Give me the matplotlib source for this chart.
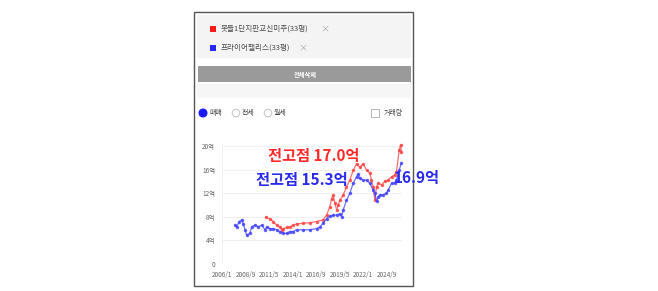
import numpy as np
import matplotlib
matplotlib.use('Agg')
import matplotlib.pyplot as plt
from matplotlib.patches import Rectangle, Ellipse

plt.rcParams['font.family'] = ['Noto Sans CJK KR', 'DejaVu Sans']

W, H = 658, 291

''' data read off the picture (decimal years, 억) '''
blue_years = [2007.47, 2007.66, 2007.96, 2008.23, 2008.42, 2008.6, 2008.79, 2009.17, 2009.36,
              2009.74, 2010.11, 2010.49, 2010.87, 2011.06, 2011.43, 2011.81, 2012.19, 2012.57,
              2012.94, 2013.32, 2013.7, 2014.08, 2014.45, 2015.21, 2015.96, 2016.72, 2017.09,
              2017.47, 2017.85, 2018.23, 2018.6, 2018.98, 2019.36, 2019.55, 2019.74, 2020.11,
              2020.49, 2020.87, 2021.25, 2021.43, 2021.62, 2022.0, 2022.38, 2022.75, 2023.13,
              2023.32, 2023.51, 2023.7, 2023.89, 2024.26, 2024.64, 2024.83, 2025.21, 2025.58,
              2025.77, 2026.08, 2026.34]
blue_vals = [6.6, 6.3, 7.2, 7.5, 6.8, 5.8, 4.9, 5.2, 6.3,
             6.6, 6.3, 6.6, 5.8, 6.3, 6.0, 6.0, 5.8, 5.5,
             5.2, 5.2, 5.5, 5.5, 5.8, 5.8, 5.8, 6.0, 6.3,
             6.9, 7.7, 8.1, 8.3, 8.3, 8.5, 8.0, 9.2, 10.8,
             12.0, 13.7, 14.8, 15.3, 14.5, 14.2, 14.2, 13.7, 12.5,
             12.0, 10.6, 11.4, 11.7, 11.7, 12.0, 12.5, 13.7, 13.7,
             14.2, 15.9, 17.2]

red_years = [2010.98, 2011.43, 2011.81, 2012.19, 2012.57, 2012.75, 2012.94, 2013.32, 2013.7,
             2014.08, 2014.45, 2015.21, 2015.96, 2016.72, 2017.47, 2017.85, 2018.23, 2018.42,
             2018.6, 2018.79, 2018.98, 2019.17, 2019.36, 2019.74, 2020.11, 2020.49, 2020.87,
             2021.25, 2021.62, 2022.0, 2022.38, 2022.75, 2022.94, 2023.13, 2023.32, 2023.51,
             2023.7, 2024.08, 2024.45, 2024.83, 2025.21, 2025.58, 2025.77, 2026.08, 2026.23,
             2026.34]
red_vals = [7.9, 7.6, 7.2, 6.6, 6.3, 5.8, 6.0, 6.2, 6.3,
            6.6, 6.8, 6.9, 7.0, 7.2, 7.5, 8.3, 9.7, 11.1,
            11.7, 10.3, 9.2, 10.0, 10.8, 11.7, 13.1, 14.2, 15.9,
            17.0, 16.4, 17.0, 15.9, 15.4, 14.2, 13.1, 10.8, 13.1,
            13.7, 13.4, 14.0, 14.2, 14.8, 15.1, 15.6, 19.3, 20.2,
            19.0]

yticks = [0, 4, 8, 12, 16, 20]
ytick_labels = ['0', '4억', '8억', '12억', '16억', '20억']
xticks = [2006.0, 2008 + 8/12, 2011 + 4/12, 2014.0, 2016 + 8/12, 2019 + 4/12, 2022.0, 2024 + 8/12]
xtick_labels = ['2006/1', '2008/9', '2011/5', '2014/1', '2016/9', '2019/5', '2022/1', '2024/9']

legend_names = ['봇들1단지판교신미주(33평)', '프라이어팰리스(33평)']
legend_colors = ['#ff1a1a', '#2a2aff']
radio_labels = ['매매', '전세', '월세']


def fx(x):
	return x / W


def fy(y):
	return 1 - y / H


def rect(fig, x0, y0, x1, y1, **kw):
	fig.add_artist(Rectangle((fx(x0), fy(y1)), (x1 - x0) / W, (y1 - y0) / H,
	                         transform=fig.transFigure, zorder=0.5, **kw))


def dot(fig, cx, cy, r, **kw):
	fig.add_artist(Ellipse((fx(cx), fy(cy)), 2 * r / W, 2 * r / H,
	                       transform=fig.transFigure, zorder=1, **kw))


fig = plt.figure(figsize=(W / 100, H / 100), dpi=100)
fig.patch.set_facecolor('white')

''' panel frame and header '''
rect(fig, 194, 12, 413, 286, facecolor='white', edgecolor='#555555', lw=1)
rect(fig, 197, 15, 411, 58, facecolor='#f4f4f4', edgecolor='none')
rect(fig, 198, 66, 411, 82, facecolor='#9a9a9a', edgecolor='none')
rect(fig, 197, 84, 411, 98, facecolor='#f6f6f6', edgecolor='none')
fig.text(fx(305), fy(74), '전체삭제', color='white', fontsize=4.5, fontweight='bold',
         ha='center', va='center')

for i, (name, c) in enumerate(zip(legend_names, legend_colors)):
	yy = 29 + 19 * i
	rect(fig, 210, yy - 3, 216, yy + 3, facecolor=c, edgecolor='none')
	fig.text(fx(221), fy(yy), name, color='#4a4a4a', fontsize=5.5, ha='left', va='center')
fig.text(fx(320), fy(29), '×', color='#aaaaaa', fontsize=6.5, ha='left', va='center')
fig.text(fx(298), fy(48), '×', color='#aaaaaa', fontsize=6.5, ha='left', va='center')

''' radio row '''
for i, (cx, lab) in enumerate(zip([203, 236, 268], radio_labels)):
	if i == 0:
		dot(fig, cx, 113, 3.8, facecolor='#1a1aff', edgecolor='#1a1aff')
	else:
		dot(fig, cx, 113, 3.8, facecolor='white', edgecolor='#bbbbbb', lw=0.6)
	fig.text(fx(cx + 6), fy(113), lab, color='#444444', fontsize=5, ha='left', va='center')
rect(fig, 371, 109, 379, 117, facecolor='white', edgecolor='#aaaaaa', lw=0.6)
fig.text(fx(384), fy(113), '거래량', color='#444444', fontsize=5, ha='left', va='center')

''' chart '''
ax = fig.add_axes([fx(222), fy(264), (402 - 222) / W, (264 - 143) / H])
ax.set_zorder(2)
ax.patch.set_alpha(0)
ymax = (264 - 143) / 5.9
ax.set_ylim(0, ymax)
ax.set_xlim(2006.0, 2026.4)
for v in yticks[1:]:
	ax.axhline(v, color='#eeeeee', lw=0.6, zorder=0)
for s in ['top', 'right', 'bottom']:
	ax.spines[s].set_visible(False)
ax.spines['left'].set_color('#eeeeee')
ax.spines['left'].set_linewidth(0.6)

ax.plot(red_years, red_vals, color='#ff4040', lw=0.9, alpha=0.75, marker='o', ms=1.5,
        clip_on=False)
ax.plot(blue_years, blue_vals, color='#4040ff', lw=0.9, alpha=0.75, marker='o', ms=1.5,
        clip_on=False)

ax.set_yticks(yticks)
ax.set_yticklabels(ytick_labels)
ax.set_xticks(xticks)
ax.set_xticklabels(xtick_labels)
ax.tick_params(axis='both', length=0, labelsize=4.6, labelcolor='#666666')
ax.tick_params(axis='y', pad=5)
ax.tick_params(axis='x', pad=5)

''' overlaid annotations '''
fig.text(fx(268), fy(156), '전고점 17.0억', color='#ff2a2a', fontsize=11, fontweight='bold',
         ha='left', va='center', zorder=10)
fig.text(fx(256), fy(180), '전고점 15.3억', color='#2a2aee', fontsize=11, fontweight='bold',
         ha='left', va='center', zorder=10)
fig.text(fx(394), fy(178), '16.9억', color='#2a2aee', fontsize=11, fontweight='bold',
         ha='left', va='center', zorder=10)

fig.savefig('out.png', dpi=100)
